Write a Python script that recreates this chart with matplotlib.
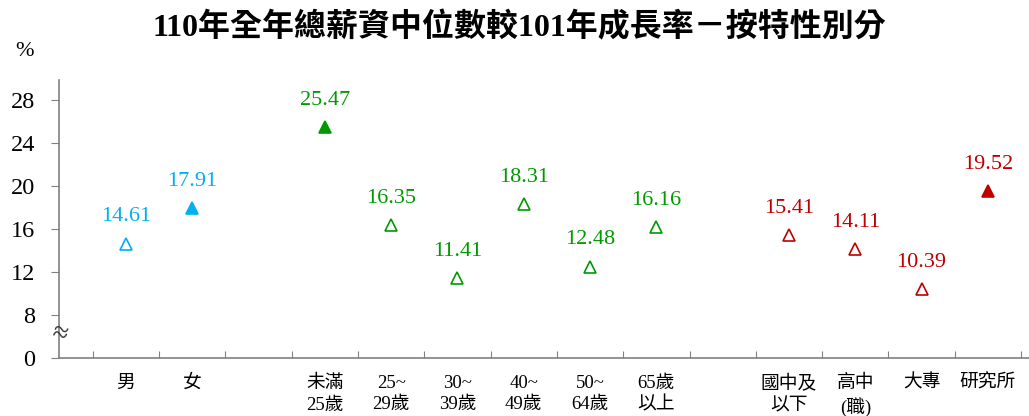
import matplotlib.pyplot as plt
from matplotlib import transforms

plt.rcParams['font.family'] = ['Liberation Serif', 'Noto Sans CJK TC']

# categories (blank slots are the gaps between groups)
labels = ['男', '女', '', '未滿\n25歲', '25~\n29歲', '30~\n39歲', '40~\n49歲',
          '50~\n64歲', '65歲\n以上', '', '國中及\n以下', '高中\n(職)', '大專', '研究所']
sex_pos = [0, 1]
sex_vals = [14.61, 17.91]
age_pos = [3, 4, 5, 6, 7, 8]
age_vals = [25.47, 16.35, 11.41, 18.31, 12.48, 16.16]
edu_pos = [10, 11, 12, 13]
edu_vals = [15.41, 14.11, 10.39, 19.52]

groups = [
    (sex_pos, sex_vals, '#00B0F0'),
    (age_pos, age_vals, '#009A00'),
    (edu_pos, edu_vals, '#C00000'),
]

fig = plt.figure(figsize=(10.29, 4.16), dpi=100)
ax = fig.add_axes([0.0573, 0.1394, 0.9427, 0.6683])

for pos, vals, col in groups:
    top = max(vals)
    for x, v in zip(pos, vals):
        face = col if v == top else 'white'
        ax.plot(x, v, marker='^', markersize=8, markerfacecolor=face,
                markeredgecolor=col, markeredgewidth=1.2, linestyle='none')
        ax.annotate(f'{v:.2f}', xy=(x, v), xytext=(0, 19.5), textcoords='offset points',
                    ha='center', va='center', fontsize=16, color=col)

# axis from 4 upward, bottom labelled 0 (broken axis)
ax.set_ylim(4, 29.86)
ax.set_yticks([4, 8, 12, 16, 20, 24, 28])
ax.set_yticklabels(['0', '8', '12', '16', '20', '24', '28'], fontsize=17.5)
ax.set_xlim(-1.01, 13.62)
ax.set_xticks([i + 0.5 for i in range(-1, 14)])
ax.set_xticklabels([])

for s in ['top', 'right']:
    ax.spines[s].set_visible(False)
for s in ['left', 'bottom']:
    ax.spines[s].set_color('#808080')
    ax.spines[s].set_linewidth(1.2)
ax.tick_params(axis='y', direction='out', length=6, color='#808080', pad=11)
ax.tick_params(axis='x', direction='in', length=5, color='#808080')

trans = transforms.blended_transform_factory(ax.transData, ax.transAxes)
for i, lab in enumerate(labels):
    if lab:
        ax.annotate(lab, xy=(i, 0), xycoords=trans, xytext=(0, -12),
                    textcoords='offset points', ha='center', va='top',
                    fontsize=13.5, linespacing=1.35)

# break mark on the y axis
ax.text(-1.01, 6.2, '≈', fontsize=20, color='#333333', ha='center', va='center',
        rotation=-15)

fig.text(0.505, 0.933, '110年全年總薪資中位數較101年成長率－按特性別分',
         ha='center', va='center', fontsize=23, fontweight='bold')
fig.text(0.024, 0.875, '%', ha='center', va='center', fontsize=16)

fig.savefig('out.png', dpi=100)
